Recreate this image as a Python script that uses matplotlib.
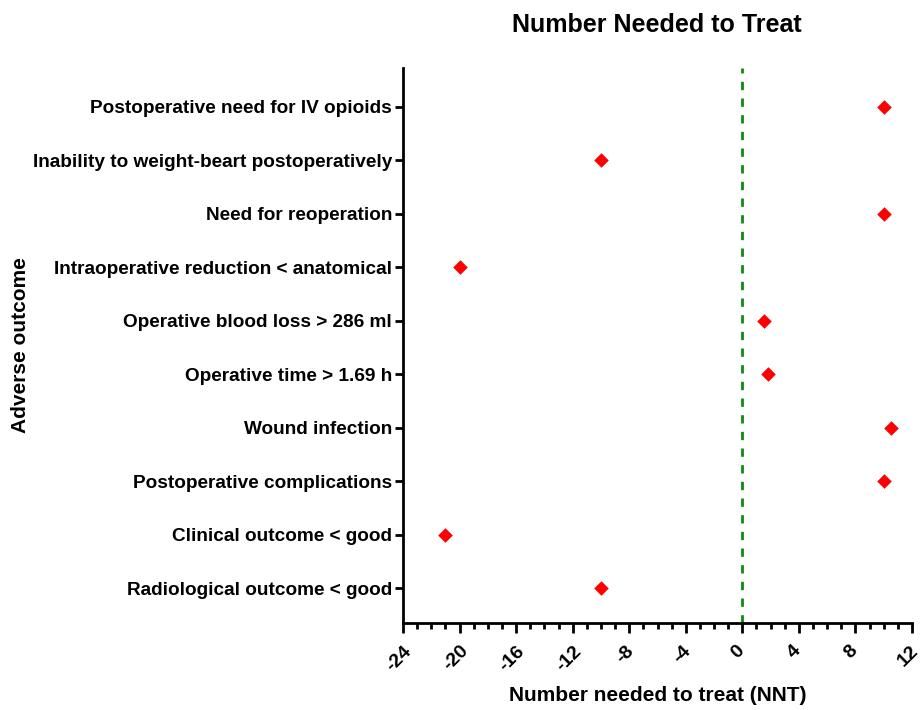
import matplotlib
matplotlib.use("Agg")
import matplotlib.pyplot as plt
from matplotlib.ticker import MultipleLocator
from matplotlib import font_manager
import matplotlib.transforms as mtransforms

categories = [
    "Postoperative need for IV opioids",
    "Inability to weight-beart postoperatively",
    "Need for reoperation",
    "Intraoperative reduction < anatomical",
    "Operative blood loss > 286 ml",
    "Operative time > 1.69 h",
    "Wound infection",
    "Postoperative complications",
    "Clinical outcome < good",
    "Radiological outcome < good",
]
nnt = [10, -10, 10, -20, 1.5, 1.8, 10.5, 10, -21, -10]
xticks = [-24, -20, -16, -12, -8, -4, 0, 4, 8, 12]

names = {f.name for f in font_manager.fontManager.ttflist}
narrow = "Liberation Sans Narrow" if "Liberation Sans Narrow" in names else "Liberation Sans"

plt.rcParams['font.family'] = ['Liberation Sans', 'DejaVu Sans']

fig = plt.figure(figsize=(9.21, 7.10), dpi=100)
ax = fig.add_axes([403/921, 1-623/710, (912-403)/921, (623-68)/710])

n = len(categories)
ypos = [n - 1 - i for i in range(n)]
ax.scatter(nnt, ypos, marker='D', s=55, color='#ff0000', zorder=3, linewidths=0)
ax.axvline(0, color='#108a10', linestyle=(0, (3, 3)), linewidth=2, zorder=2)

ax.set_xlim(-24, 12)
ax.set_ylim(-0.65, n - 1 + 0.72)
ax.set_xticks(xticks)
ax.xaxis.set_minor_locator(MultipleLocator(1))
ax.set_yticks(ypos)
ax.set_yticklabels(categories, fontsize=13.7, fontweight='bold')

for s in ['top', 'right']:
    ax.spines[s].set_visible(False)
for s in ['left', 'bottom']:
    ax.spines[s].set_linewidth(2)
ax.tick_params(axis='x', which='major', length=7, width=2, pad=7)
ax.tick_params(axis='x', which='minor', length=4, width=2)
ax.tick_params(axis='y', which='major', length=6, width=2, pad=2)

ax.set_xticklabels([str(t) for t in xticks], rotation=45, ha='center', va='top',
                   fontsize=14, fontweight='bold')
offset = mtransforms.ScaledTranslation(-4/100, 0, fig.dpi_scale_trans)
for tick in ax.xaxis.get_major_ticks():
    tick.label1.set_transform(tick.label1.get_transform() + offset)

ax.set_xlabel("Number needed to treat (NNT)", fontsize=15, fontweight='bold', labelpad=8)
ax.set_ylabel("Adverse outcome", fontsize=15, fontweight='bold')
ax.yaxis.set_label_coords((30 - 403) / 509, 0.5)
fig.text(657/921, 1-25/710, "Number Needed to Treat", ha='center', va='center',
         fontsize=18, fontweight='bold', family=[narrow, 'DejaVu Sans'])

fig.savefig("out.png", dpi=100)
